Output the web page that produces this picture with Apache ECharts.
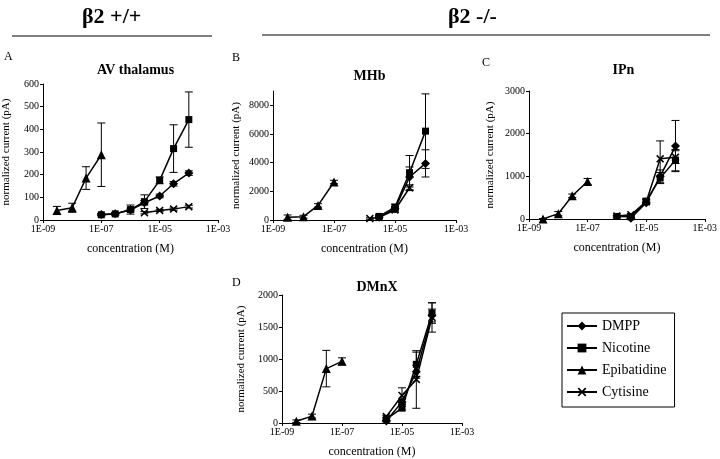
<!DOCTYPE html>
<html>
<head>
<meta charset="utf-8">
<script src="https://cdn.jsdelivr.net/npm/echarts@6/dist/echarts.min.js"></script>
<style>
  html, body { margin: 0; padding: 0; background: #fff; }
  #chart { width: 720px; height: 459px; }
</style>
</head>
<body>
<div id="chart"></div>
<script>
// drug names, legend order
const drugs = ['DMPP', 'Nicotine', 'Epibatidine', 'Cytisine'];

// A - AV thalamus (b2 +/+)
const avDmppConc = [1e-7, 3e-7, 1e-6, 3e-6, 1e-5, 3e-5, 1e-4];
const avDmpp = [24, 28, 44, 76, 106, 160, 207];
const avDmppErr = [4, 5, 8, 10, 8, 10, 10];
const avNicConc = [1e-7, 3e-7, 1e-6, 3e-6, 1e-5, 3e-5, 1e-4];
const avNic = [23, 27, 46, 81, 175, 315, 443];
const avNicErr = [5, 6, 20, 30, 15, 105, 122];
const avEpiConc = [3e-9, 1e-8, 3e-8, 1e-7];
const avEpi = [42, 54, 185, 288];
const avEpiErr = [18, 20, 50, 140];
const avCytConc = [3e-6, 1e-5, 3e-5, 1e-4];
const avCyt = [32, 42, 48, 59];
const avCytErr = [5, 5, 5, 6];

// B - MHb (b2 -/-)
const mhDmppConc = [3e-6, 1e-5, 3e-5, 1e-4];
const mhDmpp = [200, 780, 3000, 3950];
const mhDmppErr = [80, 150, 700, 950];
const mhNicConc = [3e-6, 1e-5, 3e-5, 1e-4];
const mhNic = [250, 900, 3300, 6200];
const mhNicErr = [80, 200, 1200, 2600];
const mhEpiConc = [3e-9, 1e-8, 3e-8, 1e-7];
const mhEpi = [200, 230, 1020, 2650];
const mhEpiErr = [150, 100, 120, 120];
const mhCytConc = [1.5e-6, 3e-6, 1e-5, 3e-5];
const mhCyt = [100, 180, 700, 2250];
const mhCytErr = [50, 80, 150, 200];

// C - IPn (b2 -/-)
const ipDmppConc = [3e-6, 1e-5, 3e-5, 1e-4];
const ipDmpp = [20, 380, 1000, 1710];
const ipDmppErr = [10, 40, 150, 600];
const ipNicConc = [1e-6, 3e-6, 1e-5, 3e-5, 1e-4];
const ipNic = [60, 50, 420, 960, 1380];
const ipNicErr = [20, 20, 50, 130, 250];
const ipEpiConc = [3e-9, 1e-8, 3e-8, 1e-7];
const ipEpi = [0, 125, 545, 880];
const ipEpiErr = [10, 50, 40, 70];
const ipCytConc = [1e-6, 3e-6, 1e-5, 3e-5, 1e-4];
const ipCyt = [70, 100, 400, 1410, 1450];
const ipCytErr = [20, 30, 50, 420, 150];

// D - DMnX (b2 -/-)
const dmDmppConc = [3e-6, 1e-5, 3e-5, 1e-4];
const dmDmpp = [30, 330, 800, 1680];
const dmDmppErr = [10, 40, 100, 100];
const dmNicConc = [3e-6, 1e-5, 3e-5, 1e-4];
const dmNic = [60, 232, 917, 1717];
const dmNicErr = [20, 30, 190, 160];
const dmEpiConc = [3e-9, 1e-8, 3e-8, 1e-7];
const dmEpi = [28, 108, 850, 963];
const dmEpiErr = [20, 30, 285, 55];
const dmCytConc = [3e-6, 1e-5, 3e-5, 1e-4];
const dmCyt = [100, 430, 680, 1650];
const dmCytErr = [20, 120, 450, 230];

const panelTitles = ['AV thalamus', 'MHb', 'IPn', 'DMnX'];
const yMax = [600, 9000, 3000, 2000];
const yTicks = [
  [0, 100, 200, 300, 400, 500, 600],
  [0, 2000, 4000, 6000, 8000],
  [0, 1000, 2000, 3000],
  [0, 500, 1000, 1500, 2000]
];

const panels = [
  [[avDmppConc, avDmpp, avDmppErr], [avNicConc, avNic, avNicErr], [avEpiConc, avEpi, avEpiErr], [avCytConc, avCyt, avCytErr]],
  [[mhDmppConc, mhDmpp, mhDmppErr], [mhNicConc, mhNic, mhNicErr], [mhEpiConc, mhEpi, mhEpiErr], [mhCytConc, mhCyt, mhCytErr]],
  [[ipDmppConc, ipDmpp, ipDmppErr], [ipNicConc, ipNic, ipNicErr], [ipEpiConc, ipEpi, ipEpiErr], [ipCytConc, ipCyt, ipCytErr]],
  [[dmDmppConc, dmDmpp, dmDmppErr], [dmNicConc, dmNic, dmNicErr], [dmEpiConc, dmEpi, dmEpiErr], [dmCytConc, dmCyt, dmCytErr]]
];

const serif = 'Liberation Serif';
const crossPath = 'path://M0,1.4L1.4,0L5,3.6L8.6,0L10,1.4L6.4,5L10,8.6L8.6,10L5,6.4L1.4,10L0,8.6L3.6,5Z';
const symbols = { DMPP: 'diamond', Nicotine: 'rect', Epibatidine: 'triangle', Cytisine: crossPath };
const symSize = { DMPP: 9, Nicotine: 7, Epibatidine: 9, Cytisine: 8 };

// grid boxes (px)
const grids = [
  { left: 43, top: 84, width: 175, height: 136 },
  { left: 273, top: 91, width: 183, height: 129 },
  { left: 529, top: 91, width: 179, height: 128 },
  { left: 282, top: 295, width: 180, height: 129 }
];
const yNameGap = [31, 31, 33, 35];

function expLabel(v) {
  var e = Math.round(Math.log10(v));
  return '1E-' + String(-e).padStart(2, '0');
}

var xAxis = [], yAxis = [], series = [], titles = [];
grids.forEach(function (g, i) {
  xAxis.push({
    type: 'log', gridIndex: i, logBase: 10, min: 1e-9, max: 1e-3, interval: 2,
    name: 'concentration (M)', nameLocation: 'middle', nameGap: 23,
    nameTextStyle: { fontFamily: serif, fontSize: 12, color: '#000' },
    axisLine: { lineStyle: { color: '#000', width: 1 } },
    axisTick: { length: 3, lineStyle: { color: '#000' } },
    axisLabel: { formatter: expLabel, fontFamily: serif, fontSize: 10, color: '#000', margin: 4 },
    splitLine: { show: false }, minorTick: { show: false }
  });
  yAxis.push({
    type: 'value', gridIndex: i, min: 0, max: yMax[i],
    name: 'normalized current (pA)', nameLocation: 'middle', nameGap: yNameGap[i],
    nameTextStyle: { fontFamily: serif, fontSize: 11, color: '#000' },
    axisLine: { show: true, lineStyle: { color: '#000', width: 1 } },
    axisTick: { show: true, length: 3, lineStyle: { color: '#000' }, customValues: yTicks[i] },
    axisLabel: {
      fontFamily: serif, fontSize: 10, color: '#000', margin: 4, customValues: yTicks[i],
      formatter: function (v) { return String(v); }
    },
    splitLine: { show: false }
  });
  titles.push({
    text: panelTitles[i],
    left: g.left + g.width / 2, textAlign: 'center',
    top: [58, 64, 58, 275][i],
    textStyle: { fontFamily: serif, fontSize: 14, fontWeight: 'bold', color: '#000' }
  });

  var errData = [];
  panels[i].forEach(function (d, k) {
    var name = drugs[k];
    series.push({
      type: 'line', name: name, xAxisIndex: i, yAxisIndex: i,
      data: d[0].map(function (c, j) { return [c, d[1][j]]; }),
      symbol: symbols[name], symbolSize: symSize[name], showAllSymbol: true,
      lineStyle: { color: '#000', width: 1.5 }, itemStyle: { color: '#000' },
      z: 3
    });
    d[0].forEach(function (c, j) {
      errData.push([c, Math.max(0, d[1][j] - d[2][j]), d[1][j] + d[2][j]]);
    });
  });
  series.push({
    type: 'custom', name: 'err' + i, xAxisIndex: i, yAxisIndex: i,
    data: errData, z: 2,
    renderItem: function (params, api) {
      var x = api.value(0);
      var lo = api.coord([x, api.value(1)]);
      var hi = api.coord([x, api.value(2)]);
      var w = 4;
      var st = { stroke: '#000', lineWidth: 1 };
      return {
        type: 'group',
        children: [
          { type: 'line', shape: { x1: lo[0], y1: lo[1], x2: hi[0], y2: hi[1] }, style: st },
          { type: 'line', shape: { x1: hi[0] - w, y1: hi[1], x2: hi[0] + w, y2: hi[1] }, style: st },
          { type: 'line', shape: { x1: lo[0] - w, y1: lo[1], x2: lo[0] + w, y2: lo[1] }, style: st }
        ]
      };
    }
  });
});

var chart = echarts.init(document.getElementById('chart'));
chart.setOption({
  animation: false,
  backgroundColor: '#fff',
  title: titles,
  grid: grids,
  xAxis: xAxis,
  yAxis: yAxis,
  legend: {
    data: drugs, orient: 'vertical', left: 562, top: 313,
    borderColor: '#000', borderWidth: 1, padding: [6, 8, 8, 4],
    itemWidth: 30, itemHeight: 11, itemGap: 8,
    textStyle: { fontFamily: serif, fontSize: 14, color: '#000' }
  },
  graphic: [
    { type: 'text', left: 82, top: 6, style: { text: '\u03b22 +/+', font: 'bold 22px "Liberation Serif"', fill: '#000' } },
    { type: 'line', shape: { x1: 12, y1: 36, x2: 212, y2: 36 }, style: { stroke: '#000', lineWidth: 1 } },
    { type: 'text', left: 448, top: 6, style: { text: '\u03b22 -/-', font: 'bold 22px "Liberation Serif"', fill: '#000' } },
    { type: 'line', shape: { x1: 262, y1: 35, x2: 710, y2: 35 }, style: { stroke: '#000', lineWidth: 1 } },
    { type: 'text', left: 4, top: 51, style: { text: 'A', font: '12px "Liberation Serif"', fill: '#000' } },
    { type: 'text', left: 232, top: 52, style: { text: 'B', font: '12px "Liberation Serif"', fill: '#000' } },
    { type: 'text', left: 482, top: 57, style: { text: 'C', font: '12px "Liberation Serif"', fill: '#000' } },
    { type: 'text', left: 232, top: 277, style: { text: 'D', font: '12px "Liberation Serif"', fill: '#000' } }
  ],
  series: series
});
</script>
</body>
</html>
